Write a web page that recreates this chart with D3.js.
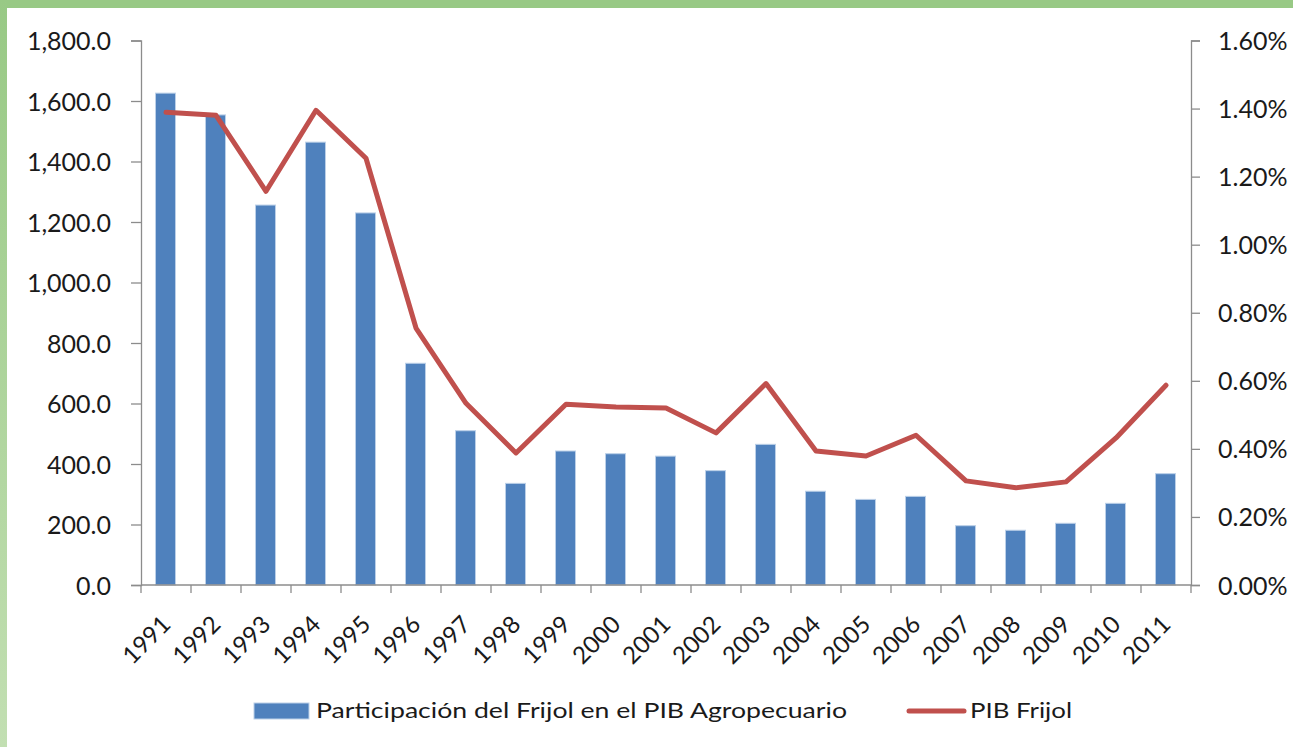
<html>
  <head>
    <script type="text/javascript" src="https://d3js.org/d3.v7.min.js"></script>
    <style>
      body { margin: 0; background: #fff; }
      text { font-family: Lato, "Open Sans", sans-serif; fill: #1a1a1a; }
    </style>
  </head>
  <body>
    <script>
        // years on the x axis
        var years = ["1991","1992","1993","1994","1995","1996","1997","1998","1999","2000","2001",
                     "2002","2003","2004","2005","2006","2007","2008","2009","2010","2011"];
        // bars: Participación del Frijol en el PIB Agropecuario (left axis)
        var participacion = [1626, 1554, 1256, 1464, 1230, 733, 510, 336, 443, 434, 426,
                             378, 465, 310, 283, 293, 196, 181, 204, 270, 368];
        // line: PIB Frijol in percent (right axis)
        var pibFrijol = [1.389, 1.380, 1.157, 1.395, 1.254, 0.755, 0.534, 0.388, 0.531, 0.523, 0.520,
                         0.447, 0.592, 0.394, 0.379, 0.440, 0.306, 0.286, 0.303, 0.432, 0.587];
        var leftTicks = [0, 200, 400, 600, 800, 1000, 1200, 1400, 1600, 1800];
        var rightTicks = [0, 0.2, 0.4, 0.6, 0.8, 1.0, 1.2, 1.4, 1.6];
        var seriesNames = ["Participación del Frijol en el PIB Agropecuario", "PIB Frijol"];

        var width = 1293, height = 747;
        // plot box (note: "top" is reserved on window, so use plotTop)
        var plotLeft = 141, plotRight = 1191, plotTop = 40.5, plotBottom = 585;

        var svg = d3.select("body").append("svg")
            .attr("width", width)
            .attr("height", height);

        // green frame on top and left
        var defs = svg.append("defs");
        var grad = defs.append("linearGradient").attr("id", "leftGreen")
            .attr("x1", 0).attr("y1", 0).attr("x2", 0).attr("y2", 1);
        grad.append("stop").attr("offset", "0%").attr("stop-color", "#98c985");
        grad.append("stop").attr("offset", "100%").attr("stop-color", "#c2dfb2");
        svg.append("rect").attr("x", 0).attr("y", 0).attr("width", width).attr("height", 8).attr("fill", "#98c985");
        svg.append("rect").attr("x", 0).attr("y", 0).attr("width", 7).attr("height", height).attr("fill", "url(#leftGreen)");

        var x = d3.scaleBand().domain(years).range([plotLeft, plotRight]);
        var yL = d3.scaleLinear().domain([0, 1800]).range([plotBottom, plotTop]);
        var yR = d3.scaleLinear().domain([0, 1.6]).range([plotBottom, plotTop]);

        // bars
        svg.append("g").selectAll("rect")
            .data(participacion)
            .enter().append("rect")
            .attr("x", function(d, i) { return x(years[i]) + x.bandwidth() / 2 - 10.5; })
            .attr("y", function(d) { return yL(d); })
            .attr("width", 20)
            .attr("height", function(d) { return plotBottom - yL(d); })
            .attr("fill", "#4f81bd")
            .attr("stroke", "#bcd0e8")
            .attr("stroke-width", 1);

        var axisColor = "#8c8c8c";

        // left axis
        var gl = svg.append("g").attr("transform", "translate(" + plotLeft + ",0)")
            .call(d3.axisLeft(yL).tickValues(leftTicks).tickSize(10).tickPadding(20)
                .tickFormat(d3.format(",.1f")));
        // right axis
        var gr = svg.append("g").attr("transform", "translate(" + plotRight + ",0)")
            .call(d3.axisRight(yR).tickValues(rightTicks).tickSize(9).tickPadding(18)
                .tickFormat(function(d) { return d3.format(".2f")(d) + "%"; }));
        [gl, gr].forEach(function(g) {
            g.select(".domain").attr("stroke", axisColor).attr("stroke-width", 1.3);
            g.selectAll(".tick line").attr("stroke", axisColor).attr("stroke-width", 1.3);
            g.selectAll("text").style("font-size", "25px").attr("fill", "#1a1a1a").attr("dy", "0.36em");
        });

        // bottom axis: ticks at category boundaries
        var gb = svg.append("g");
        gb.append("line").attr("x1", plotLeft).attr("x2", plotRight).attr("y1", plotBottom).attr("y2", plotBottom)
            .attr("stroke", axisColor).attr("stroke-width", 1.3);
        gb.selectAll(".bt").data(d3.range(years.length + 1)).enter().append("line")
            .attr("x1", function(i) { return plotLeft + i * x.step(); })
            .attr("x2", function(i) { return plotLeft + i * x.step(); })
            .attr("y1", plotBottom).attr("y2", plotBottom + 8)
            .attr("stroke", axisColor).attr("stroke-width", 1.3);
        gb.selectAll(".yl").data(years).enter().append("text")
            .attr("transform", function(d) {
                return "translate(" + (x(d) + x.bandwidth() / 2 + 6) + "," + (plotBottom + 41) + ") rotate(-45)";
            })
            .attr("text-anchor", "end")
            .style("font-size", "24px")
            .text(function(d) { return d; });

        // line
        var line = d3.line()
            .x(function(d, i) { return x(years[i]) + x.bandwidth() / 2; })
            .y(function(d) { return yR(d); });
        svg.append("path")
            .datum(pibFrijol)
            .attr("d", line)
            .attr("fill", "none")
            .attr("stroke", "#c0504d")
            .attr("stroke-width", 5)
            .attr("stroke-linejoin", "round")
            .attr("stroke-linecap", "round");

        // legend
        var lg = svg.append("g");
        lg.append("rect").attr("x", 254).attr("y", 703).attr("width", 55).attr("height", 16)
            .attr("fill", "#4f81bd").attr("stroke", "#bcd0e8");
        lg.append("text").attr("x", 316).attr("y", 718)
            .attr("textLength", 531).attr("lengthAdjust", "spacingAndGlyphs")
            .style("font-size", "22px").text(seriesNames[0]);
        lg.append("line").attr("x1", 909).attr("x2", 964).attr("y1", 711).attr("y2", 711)
            .attr("stroke", "#c0504d").attr("stroke-width", 5).attr("stroke-linecap", "round");
        lg.append("text").attr("x", 970).attr("y", 718)
            .attr("textLength", 102).attr("lengthAdjust", "spacingAndGlyphs")
            .style("font-size", "22px").text(seriesNames[1]);
    </script>
  </body>
</html>
